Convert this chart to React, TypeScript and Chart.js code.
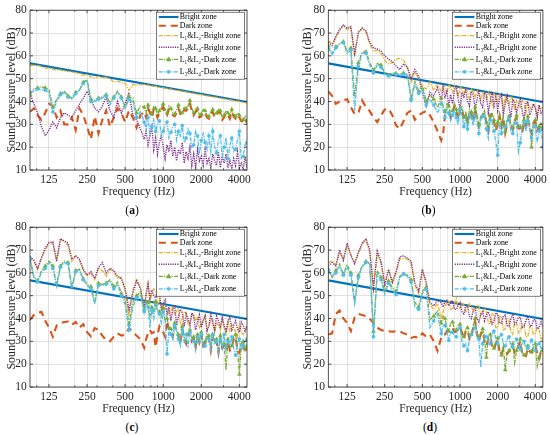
import React, { useEffect, useRef } from "react";
import { Chart, registerables } from "chart.js";

Chart.register(...registerables);

// ---------------- data ----------------
// 1/10-octave steps up to 660 Hz, 1/20-octave steps above
const freqHz = [88.5,94.9,101.7,108.9,116.8,125.2,134.1,143.8,154.1,165.1,177,189.7,203.3,217.9,233.6,250.3,268.3,287.6,308.2,330.3,354,379.4,406.7,435.8,467.1,500.6,536.6,575.1,616.3,660.6,
  708,733,758.8,785.6,813.3,842,871.6,902.4,934.2,967,1001,1036,1073,1111,1150,1191,1233,1276,1321,1368,1416,1466,1518,1571,1627,1684,1743,1805,1868,1934,2002,2073,2146,2222,2300,2381,2465,2552,2642,2735,2832,2932,3035,3142,3253,3368,3486,3609,3736,3868,4005,4146,4292,4444,4600];

const brightFreq = [88.5, 4600];
const brightZone = [56.7, 39.8];

const xTickMajor = [125, 250, 500, 1000, 2000, 4000];
const xTickMinor = [100, 200, 300, 400, 600, 700, 800, 900, 3000];

const seriesLabels = [
  "Bright zone",
  "Dark zone",
  "L₁&L₂-Bright zone",
  "L₃&L₄-Bright zone",
  "L₁&L₂-Dark zone",
  "L₃&L₄-Dark zone",
];

const panelTags = ["a", "b", "c", "d"];

// (a)
const aDarkZone = [35.5,37,34,32,35,39,38,33,36,30,30,33,27.5,37,34,29,23.5,33.5,26,32,36,29,33,37,35,31,36,33,28.5,34,
  35.5,33,37,35,33,36.5,35.5,33,35,36.5,37.5,35,34,36.5,35.5,34,33.5,35,37,34.5,34,36.5,36,37,39,36,34,35.5,36,33,33.5,35.5,35,33,32.5,34.5,35.5,33,34,35.5,35,32,33,35,34,32.5,35.5,33.5,32.5,34,33,31.5,31,32.5,30.5];
const aL12Bright = [55.8,55.9,55.8,55.3,54.6,54.7,54.2,53.8,53.9,53.3,53.2,52.9,52.7,52.1,51.5,51.8,50.8,50.5,51,50.5,50.6,50,48.5,48.9,48.2,48,44.8,47.5,47.2,47.5,
  47.5,47.3,47.2,47.0,46.9,46.7,46.6,46.4,46.3,46.1,46.0,45.8,45.7,45.5,45.4,45.2,45.1,44.9,44.8,44.6,44.5,44.3,44.2,44.0,43.9,43.7,43.6,43.4,43.3,43.1,43.0,42.8,42.7,42.5,42.4,42.2,42.1,41.9,41.8,41.6,41.5,41.3,41.2,41.0,40.9,40.7,40.6,40.4,40.3,40.1,40.0,39.8,39.7,39.5,39.4];
const aL34Bright = [43.5,39,35,29,25,27.5,31,28.5,33,35,34,33,36,39,41.5,44.5,41,37,35.5,38,42,36,33,40,35,39,44,34,32,28,
  23.5,27,21,25,29,19,24,17,22,25,20,15,21,18,23,16,20,14,19,17,22,13,18,15,20,12,17,11,19,14,16,12,19,13,15,11,17,14,12,18,11,16,13,17,11,14,10.5,15,12,18,11,13,10.5,16,10.5];
const aL12Dark = [43,45.5,46,46.5,46,45,37.5,41,43.5,44.5,42.5,41.5,44,45,48.5,49.5,41,40.5,41.5,42,43,39.5,42,44.5,42,37.5,42,41.5,35,38,
  37.5,35,38.5,36.5,34.5,38,37,34,36,37.5,39,36.5,35,38,37,35,34.5,36.5,38.5,35.5,35,37.5,37,38,40.5,37,35,36.5,37,34,34.5,36.5,36,34,33.5,35.5,36.5,34,35,36.5,36,33,34,36,35,33.5,36.5,34.5,33.5,35,34,32.5,32,33.5,31.5];
const aL34Dark = [44,44.5,45.5,45,45,44,35.5,40,43,44,42,41,43.5,45,48,49,40,40,41,41.5,42.5,38.5,41.5,44,41.5,37,41,40,33,35.5,
  31,28,33,26,29,32,27,30,31.5,25,27,30,31,24,26.5,29,30,23,27,25,29.5,22,24,28,26,20,21,27,25,17,23,26,22,19,25,18,27,20,17.5,23,25,16,20,24,15,21,24,18,19,23,27,15,16,21,22];

// (b)
const bDarkZone = [44.4,42.5,39,40,40.5,41,37.5,34.5,35,40.5,37.5,35.8,33,31,34,36.5,36.8,34,29.5,28,31.5,35,36,32,34,35,35.8,34,31,27,
  23,26,34,35.5,35,33,35.2,38.2,35.7,32.2,36.2,37.2,32.2,34.2,30.2,35.7,34.7,31.2,36.7,33.2,29.2,32.7,33.2,35.2,30.2,27.2,33.2,34.2,31.2,27.2,30.2,33.7,29.2,32.7,26.2,30.2,32.7,29.2,27.7,31.2,33.2,28.2,28.2,26.2,31.2,29.2,32.7,28.2,26.2,30.7,31.2,27.2,28.2,30.2,27.2];
const bL12Bright = [66.7,65.2,68,71,73.4,71.5,72.5,60,70,72,70.5,65,62,62.5,61,58,56.5,57,58.5,59,58,55,48.5,53,50,46.5,45.5,48.5,45,47.5,
  44.5,47,46.5,43,47.5,46,44,47,45,42,46.5,45.5,43.5,46,44,41,45.5,44.5,42,45,43.5,40,44.5,43,41,44,42.5,38.5,43.5,41.5,40,43,42,37,42,40.5,38.5,42,41,36,40.5,39,37.5,40.5,39.5,35,39.5,38,36,39,37.5,34,38,36.5,37.5];
const bL34Bright = [66,64.5,68.5,71.5,73.5,72,72.8,61,70.5,72.2,71,66,63.5,63,62,60,58.5,57.5,55.5,54,56.5,55,50,54,51,44,38,44,42.5,46,
  40.5,46,42,44.5,38,43,39,45,47,41,36.5,44,42,45,40,38,44.5,43,36.5,41,45,39,37.5,44,43,35,40,44.5,38,42,36,41.5,43,34,39,42.5,37.5,33,41,40,35,38.5,41,36,32,39.5,40,34,36,39,37,33,38.5,35,36];
const bL12Dark = [64.5,61,64,65.5,66.2,62,63.5,42,57,61.6,61.8,57,53.6,56.6,56,52.5,51.6,52.5,52.3,52,52.5,52,41.6,48.7,44.5,47.3,40,43,41,37.3,
  41.5,38,35.5,39,38,34.4,36,39,36.5,33,37,38,33,35,31,36.5,35.5,32,37.5,34,30,33.5,34,36,31,28,34,35,32,28,31,34.5,30,33.5,27,31,33.5,30,28.5,32,34,29,29,27,32,30,33.5,29,20,31.5,32,28,29,31,28];
const bL34Dark = [63.5,60.5,63.5,65,65.8,61,62.5,36,55.5,61,61.2,56,52.5,56,55,52,51.2,52,51.8,51.5,52,51.5,40.5,47.5,43.5,45.5,38.5,41,38.5,35,
  39,36,33,37,35,31.5,34,36.5,33,30,36.5,34,29,33,28,35,33,29.5,34,31,26,32,33.5,34.5,28,24,32,31,27,22,16.5,31,26,29,29,32,32.5,27,26,31,30.5,18,22,29,31,27,31.5,28,24,30,29,22,27,29,20];

// (c)
const cDarkZone = [39.4,41.5,42.5,43,39,36,32,37,38,38.5,38.7,37.2,38.5,36,37.5,34,32.2,35.8,35,32.5,30.5,30,32,33.5,32.5,33,35.8,34,32.5,30.8,
  27.2,31,33.5,35,33.5,34,27.5,33,36.5,35,34,32,39,35,34.5,32,37,34,32,29,35.5,31,29,33,34,30,31,27.5,32,29.5,33,28,29,32,31.5,26,32,29,30,25,31.5,27,28,26,30,26,27,31,32,26,25,28,29,25,27];
const cL12Bright = [67.4,65,61.5,66.5,70,73,73,66,74.5,73.8,72,65,67.4,65.5,61,58.8,60,57,62,61,58.5,61.6,60.5,57.5,58,52,41,52.5,57.3,54,
  43,50,55.5,47,51,53,52,46,48,45,46.5,44,44.5,42,43.7,45,41.5,43,44,38,40,43,42.5,37,38,41.5,42,39,40.5,36,37,40,41.5,35,36.5,39.5,40,34,38,37,35,39.5,36,33,38.5,34.5,37.5,36,34.5,32,37.5,34,33,35,36];
const cL34Bright = [67,65.5,62,66.5,71,73.3,73.5,65,75,74,73,66,67.5,66,61.5,59,60.5,57.5,62.5,64.5,60,62,61,58.5,57.5,53,44,51,56.5,53,
  44.5,51,55,49,52.5,50,49,52,51,44,46,48,42,45,39,44,46,37,41,44,42.5,36.5,42,40,37,42.5,41,35,38.5,41.5,36,39,41,34.5,37,42,38,35,41,39,36,40.5,37,34,39,40.5,35,37,39,35.5,34,38.5,37,34.5,37];
const cL12Dark = [66,58,56.5,61,63,65.2,63,55,63,65.2,64.5,53.7,61,61.6,57.3,55,54,47.3,55.5,55,55.5,57,54,56,51,48,37.5,47,50,51.5,
  44,48,47,41,45,43,47.5,44,43,41,44.5,39,40,36,35.5,33,38,35,33,30,36.5,32,30,34,35,31,32,28.5,33,30.5,34,29,30,33,32.5,27,33,30,31,26,32.5,28,29,17.5,31,27,28,32,33,27,15.5,29,30,26,28];
const cL34Dark = [66.5,58.5,56,60,62,64.5,62,54,62.5,64.5,64,53,60.5,61,57,54.5,53,46.5,54.5,54.5,55,56,53,55,50,46,35,45,49,50,
  43,47,45,36,44,40,46,43,42,38,43,40,24.5,35,33,31,37,34,31,28,35,30,33,28,34,31,30,26,32,29,33,27,28,32,31,26,33,29,30,25,31,27,33,26,30,28,32,27,24,29,31,26,28,30,31];

// (d)
const dDarkZone = [33,33.5,42,43.5,40,38,34.5,40.5,42,41.5,41,40,38,36,35,34.5,34.4,34.2,34.5,34.4,33.5,32.9,31.5,32,31.5,33.5,32,32.9,30.1,25.8,
  31.5,33,33,34.5,34.4,35,35.8,34,34.4,35,35.8,34,31,34.5,35,31,32,36,39,33,30.5,33,34.5,30,28,31,32,28,26.5,29,30.5,25.5,24,27,26,24.5,25.5,26.5,28,25,25.5,28,30,24.5,23.5,23.5,27,25.5,25,27,28,25,22.5,25.5,25.5];
const dL12Bright = [64.5,65.2,63.5,69,66,72,68,64.5,68.5,72.5,74.5,69,53,68.5,64,54.5,61,55.5,60,66,66.5,66,64,54.5,51,61,55,46,44,46.5,
  40.5,43,45,47,48,44,44.5,46.5,48.7,45,44.5,47,46,43,44,46.5,45.5,43,43,45.5,45.8,41,42.5,44.5,43,38,37.5,42,42,36,36,41,40.5,35,35.5,40,39.5,34,33,38.5,38,33.5,34.5,37.5,37.5,32,32,36.5,36,33,33.5,36,35.5,31,31.5];
const dL34Bright = [63,64.5,63,70,65.5,73,67.5,64,69,73,75,70,53.5,69.5,65,55,61.5,56,60.5,67,67.5,66.5,65,55.5,52,61.5,56,47,45.5,48,
  47,45,47.5,48,45.5,47,48,44,44,46,47,43,42,45,45.5,41,40,43.5,44.5,40,38.5,42,43,39,41.5,43,40.5,37.5,39,42.5,42,38,38,41,41.5,37,36.5,40,42,37.5,38.5,40.5,40.5,36,36.5,39,41,37,36.5,39.5,39.5,35.5,36,38.5,36.5];
const dL12Dark = [61.6,58,61,63.8,59.5,63.5,60,47.5,59,63,65,64.5,34.4,61,58,51.6,56.5,53.5,52,58.5,59.5,59,57,47,45,52,53.7,39.5,41,43.5,
  38,41,40,36,34.5,38,38.5,35,35,37,37.5,33,32,35.5,36,32,33,37,40,34,31.5,34,35.5,31,23,32,33,29,27,30,31.5,26,24,28,17.5,25,26,27,29,20.5,26,29,31,25,24,24,28,26,25.5,28,29,19,23,26,26];
const dL34Dark = [61,58.5,60,63,59,62.5,59,46.5,58,62.5,64.5,64,32,60,57,50.5,55.5,52.5,50.5,58,59.5,58.5,56,45,44,51,53,36,39,42,
  33.5,37,37,34,30.5,34,34,32.5,32,35,36,30,28,29,26,31,33,35,36,32,31,18.6,29,33,32,30,29,33,34.5,31,29,32,33,29,28,31,32,28,27.5,30,31,28,26.5,29,30,27,27,29,30.5,27,26,28.5,29,27,27];

const panelSeries = [
  [aDarkZone, aL12Bright, aL34Bright, aL12Dark, aL34Dark],
  [bDarkZone, bL12Bright, bL34Bright, bL12Dark, bL34Dark],
  [cDarkZone, cL12Bright, cL34Bright, cL12Dark, cL34Dark],
  [dDarkZone, dL12Bright, dL34Bright, dL12Dark, dL34Dark],
];

// ---------------- styles ----------------
const SERIF = '"Liberation Serif", "Times New Roman", serif';
const AXIS_COLOR = "#262626";

type Style = { color: string; width: number; dash: number[]; marker?: "triangle" | "circle"; r?: number };
const STYLES: Style[] = [
  { color: "#0072BD", width: 2.1, dash: [] },
  { color: "#D95319", width: 2.1, dash: [7, 5] },
  { color: "#EDB120", width: 1.3, dash: [4, 1.2, 1.2, 1.2] },
  { color: "#7E2F8E", width: 1.4, dash: [1.2, 1.1] },
  { color: "#77AC30", width: 1.3, dash: [4, 1.2, 1.2, 1.2], marker: "triangle", r: 2.2 },
  { color: "#4DBEEE", width: 1.3, dash: [4, 1.2, 1.2, 1.2], marker: "circle", r: 1.6 },
];

function drawMarker(ctx: CanvasRenderingContext2D, kind: string, x: number, y: number, r: number, color: string) {
  ctx.save();
  ctx.setLineDash([]);
  ctx.fillStyle = color;
  ctx.strokeStyle = color;
  ctx.lineWidth = 0.6;
  ctx.beginPath();
  if (kind === "triangle") {
    ctx.moveTo(x, y - r * 1.15);
    ctx.lineTo(x + r, y + r * 0.7);
    ctx.lineTo(x - r, y + r * 0.7);
    ctx.closePath();
  } else {
    ctx.arc(x, y, r, 0, Math.PI * 2);
  }
  ctx.fill();
  ctx.stroke();
  ctx.restore();
}

const boxPlugin = {
  id: "matlabBox",
  afterDraw(chart: any) {
    const { ctx, chartArea } = chart;
    const { left, right, top, bottom } = chartArea;
    ctx.save();
    ctx.strokeStyle = AXIS_COLOR;
    ctx.lineWidth = 0.8;
    ctx.setLineDash([]);
    ctx.strokeRect(left, top, right - left, bottom - top);
    ctx.beginPath();
    const xs = chart.scales.x;
    for (const t of xs.ticks) {
      const px = xs.getPixelForValue(t.value);
      const len = xTickMajor.includes(t.value) ? 3 : 1.6;
      ctx.moveTo(px, bottom);
      ctx.lineTo(px, bottom - len);
      ctx.moveTo(px, top);
      ctx.lineTo(px, top + len);
    }
    const ys = chart.scales.y;
    for (const t of ys.ticks) {
      const py = ys.getPixelForValue(t.value);
      ctx.moveTo(left, py);
      ctx.lineTo(left + 3, py);
      ctx.moveTo(right, py);
      ctx.lineTo(right - 3, py);
    }
    ctx.stroke();
    ctx.restore();
  },
};

const legendPlugin = {
  id: "matlabLegend",
  afterDraw(chart: any) {
    const { ctx, chartArea } = chart;
    const bw = 88;
    const bh = 67;
    const bx = chartArea.right - bw - 2.5;
    const by = chartArea.top + 2;
    const rows = [4.8, 13.6, 23.4, 35.0, 47.2, 59.6];
    ctx.save();
    ctx.fillStyle = "#ffffff";
    ctx.fillRect(bx, by, bw, bh);
    ctx.strokeStyle = AXIS_COLOR;
    ctx.lineWidth = 0.6;
    ctx.setLineDash([]);
    ctx.strokeRect(bx, by, bw, bh);
    chart.data.datasets.forEach((ds: any, i: number) => {
      const st = STYLES[i];
      const y = by + rows[i];
      ctx.beginPath();
      ctx.setLineDash(st.dash);
      ctx.strokeStyle = st.color;
      ctx.lineWidth = st.width;
      ctx.moveTo(bx + 2.3, y);
      ctx.lineTo(bx + 22, y);
      ctx.stroke();
      ctx.setLineDash([]);
      if (st.marker) drawMarker(ctx, st.marker, bx + 12.2, y, st.r || 2, st.color);
      ctx.fillStyle = "#000000";
      ctx.font = `7.9px ${SERIF}`;
      ctx.textBaseline = "middle";
      ctx.textAlign = "left";
      ctx.fillText(ds.label, bx + 23.3, y + 0.3);
    });
    ctx.restore();
  },
};

type PanelProps = { index: number; left: number; top: number };

function Panel({ index, left, top }: PanelProps) {
  const ref = useRef<HTMLCanvasElement>(null);
  useEffect(() => {
    const isRight = index % 2 === 1;
    const series = panelSeries[index];
    const datasets = STYLES.map((st, i) => {
      const xs = i === 0 ? brightFreq : freqHz;
      const ys = i === 0 ? brightZone : series[i - 1];
      return {
        label: seriesLabels[i],
        data: xs.map((x, j) => ({ x, y: ys[j] })),
        borderColor: st.color,
        backgroundColor: st.color,
        borderWidth: st.width,
        borderDash: st.dash,
        pointStyle: st.marker || "circle",
        pointRadius: st.marker ? (c: any) => (c.dataIndex % 2 === 0 ? st.r : 0) : 0,
        pointBorderWidth: 0.5,
        pointHoverRadius: 0,
        tension: 0,
        fill: false,
        order: 10 - i,
      };
    });
    const chart = new Chart(ref.current as HTMLCanvasElement, {
      type: "line",
      data: { datasets } as any,
      options: {
        animation: false,
        responsive: false,
        events: [],
        layout: {
          padding: { left: isRight ? 21.6 : 0, right: isRight ? 5.7 : 28, top: 7.3, bottom: 0 },
        },
        plugins: { legend: { display: false }, tooltip: { enabled: false } },
        scales: {
          x: {
            type: "logarithmic",
            min: 88.5,
            max: 4600,
            afterBuildTicks: (s: any) => {
              s.ticks = [...xTickMinor, ...xTickMajor].sort((a, b) => a - b).map((v) => ({ value: v }));
            },
            afterFit: (s: any) => {
              s.height = 30;
            },
            ticks: {
              autoSkip: false,
              maxRotation: 0,
              minRotation: 0,
              padding: 3,
              color: AXIS_COLOR,
              font: { family: SERIF, size: 11.5 },
              callback: (v: any) => (xTickMajor.includes(Number(v)) ? String(v) : ""),
            },
            grid: {
              drawTicks: false,
              lineWidth: 0.8,
              color: (c: any) => (c.tick && xTickMajor.includes(c.tick.value) ? "#d6d6d6" : "#e6e6e6"),
            },
            border: { display: false },
            title: {
              display: true,
              text: "Frequency (Hz)",
              color: AXIS_COLOR,
              font: { family: SERIF, size: 11.5 },
              padding: { top: 0, bottom: 1.1 },
            },
          },
          y: {
            type: "linear",
            min: 10,
            max: 80,
            afterFit: (s: any) => {
              s.width = isRight ? 31.7 : 30;
            },
            ticks: {
              stepSize: 10,
              padding: 3.3,
              color: AXIS_COLOR,
              font: { family: SERIF, size: 11.5 },
            },
            grid: { drawTicks: false, lineWidth: 0.8, color: "#d9d9d9" },
            border: { display: false },
            title: {
              display: true,
              text: "Sound pressure level (dB)",
              color: AXIS_COLOR,
              font: { family: SERIF, size: 12 },
              padding: { top: 4.5, bottom: 0 },
            },
          },
        },
      } as any,
      plugins: [boxPlugin, legendPlugin],
    });
    return () => chart.destroy();
  }, [index]);

  return (
    <canvas
      ref={ref}
      width={275}
      height={200}
      style={{ position: "absolute", left, top, width: 275, height: 200 }}
    />
  );
}

const tagPos = [
  { x: 132, y: 210.7 },
  { x: 428.5, y: 210.7 },
  { x: 132, y: 427.7 },
  { x: 430, y: 427.7 },
];

export default function App() {
  const panels = [
    { left: 0, top: 0 },
    { left: 275, top: 0 },
    { left: 0, top: 217 },
    { left: 275, top: 217 },
  ];
  return (
    <div style={{ position: "absolute", left: 0, top: 0, width: 550, height: 435, background: "#fff", overflow: "hidden" }}>
      {panels.map((p, i) => (
        <Panel key={i} index={i} left={p.left} top={p.top} />
      ))}
      {panelTags.map((t, i) => (
        <div
          key={t}
          style={{
            position: "absolute",
            left: tagPos[i].x,
            top: tagPos[i].y,
            transform: "translate(-50%, -50%)",
            fontFamily: SERIF,
            fontSize: 11.5,
            color: "#000",
            whiteSpace: "nowrap",
            lineHeight: 1,
          }}
        >
          (<b>{t}</b>)
        </div>
      ))}
    </div>
  );
}
